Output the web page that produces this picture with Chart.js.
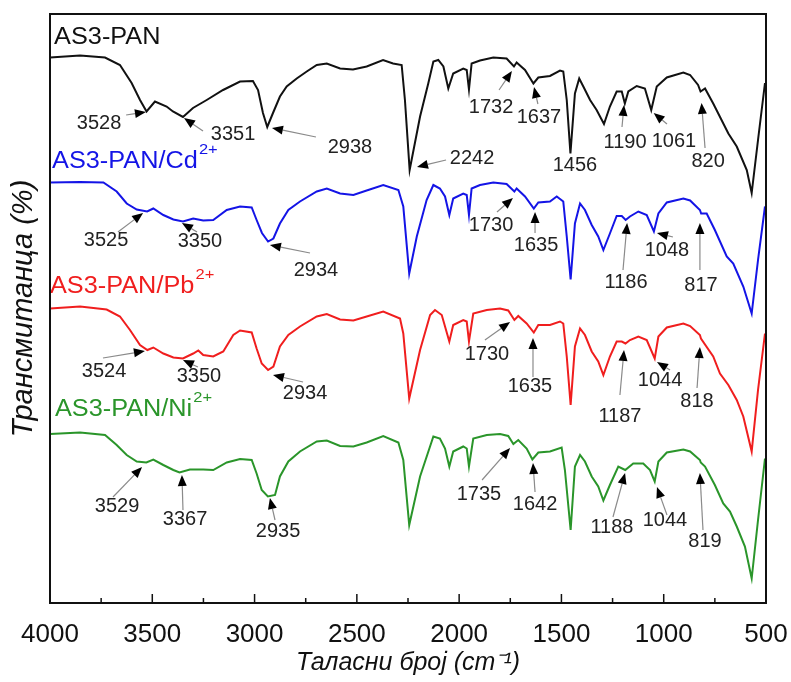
<!DOCTYPE html>
<html>
<head>
<meta charset="utf-8">
<script src="https://cdn.jsdelivr.net/npm/chart.js@4"></script>
<style>
  html, body { margin: 0; padding: 0; background: #ffffff; }
  #wrap { width: 791px; height: 682px; position: relative; }
</style>
</head>
<body>
<div id="wrap"><canvas id="c" width="791" height="682"></canvas></div>
<script>
// ---------------- DATA ----------------
const xTicks = [4000, 3500, 3000, 2500, 2000, 1500, 1000, 500];

const seriesNames = ["AS3-PAN", "AS3-PAN/Cd", "AS3-PAN/Pb", "AS3-PAN/Ni"];
const seriesSup = ["", "2+", "2+", "2+"];

const panWn = [4000,3853,3731,3658,3601,3560,3528,3487,3430,3399,3350,3301,3234,3154,3071,3008,2983,2959,2938,2910,2876,2843,2794,2745,2696,2647,2582,2519,2452,2372,2323,2281,2265,2242,2191,2151,2126,2102,2077,2053,2029,1980,1963,1952,1939,1898,1833,1768,1732,1719,1678,1637,1613,1556,1507,1491,1474,1456,1434,1413,1393,1360,1328,1292,1263,1230,1205,1190,1173,1132,1092,1061,1034,985,904,871,832,820,798,758,684,643,594,570,539,505];
const panT  = [109.1,109.5,109.1,107.6,104.0,100.6,98.3,100.3,99.3,98.3,97.2,99.0,100.6,102.6,104.3,104.4,102.6,98.0,95.2,98.0,101.3,103.3,104.9,106.3,107.6,107.9,106.9,106.7,107.3,108.6,107.9,107.6,100.6,86.6,97.3,103.9,108.3,108.6,107.3,102.9,105.9,106.9,106.6,102.7,107.9,108.5,109.1,108.9,107.3,108.1,106.6,103.9,105.1,105.4,106.5,106.3,100.6,89.9,101.9,104.9,103.3,100.6,98.6,95.8,99.3,102.3,102.3,99.9,102.3,103.4,102.9,98.6,103.3,105.1,106.1,105.6,103.6,102.3,102.9,99.9,93.9,91.3,86.6,82.0,92.6,104.0];

const cdWn = [4000,3853,3739,3674,3625,3576,3525,3495,3446,3397,3350,3300,3251,3202,3136,3071,3014,2990,2964,2934,2908,2876,2835,2778,2696,2647,2582,2517,2452,2371,2297,2273,2244,2207,2159,2126,2094,2069,2048,2029,1980,1963,1952,1939,1898,1833,1768,1730,1719,1678,1635,1613,1556,1523,1491,1474,1455,1434,1409,1385,1352,1320,1295,1263,1230,1205,1186,1165,1124,1083,1048,1026,985,904,871,823,817,790,750,692,660,611,570,539,505];
const cdT  = [84.1,84.2,84.1,82.3,79.9,78.7,78.3,78.9,77.6,76.7,76.3,76.9,76.5,76.6,78.6,79.3,79.1,76.6,74.0,72.3,72.9,75.9,78.6,80.3,82.3,82.9,81.9,81.6,82.5,83.6,82.6,79.3,65.9,73.3,80.6,83.6,82.9,81.3,77.6,80.9,81.9,81.6,77.6,82.9,83.6,84.1,83.8,82.3,82.9,81.3,78.9,80.1,80.3,81.3,80.3,73.3,64.7,75.9,79.9,78.6,75.6,73.3,70.6,73.9,77.4,77.4,76.6,77.3,78.3,77.6,74.3,77.9,80.1,80.9,80.5,78.6,77.9,77.9,74.6,69.3,67.9,63.3,57.9,68.6,79.3];

const pbWn = [4000,3853,3723,3658,3609,3560,3524,3495,3446,3397,3350,3300,3275,3251,3202,3153,3104,3071,3014,2990,2965,2934,2908,2876,2835,2778,2696,2647,2582,2517,2452,2371,2289,2273,2244,2191,2142,2118,2085,2048,2029,1980,1963,1952,1931,1865,1800,1760,1730,1711,1670,1635,1613,1556,1507,1491,1474,1455,1434,1409,1385,1352,1320,1295,1263,1230,1205,1187,1165,1124,1083,1044,1026,985,904,871,823,818,758,725,684,643,611,570,539,505];
const pbT  = [58.9,59.3,58.7,57.3,54.6,51.6,50.6,51.1,49.9,49.1,48.9,49.9,50.5,49.6,49.3,50.3,53.6,54.5,54.1,50.9,47.9,46.6,47.3,51.3,53.6,55.3,57.3,57.8,56.7,56.5,57.3,58.3,56.9,53.9,40.9,50.6,57.6,58.6,57.6,52.3,55.6,56.6,56.3,52.3,57.9,58.6,58.9,58.5,56.6,57.4,55.9,54.1,55.6,55.6,56.3,55.9,49.3,39.6,51.3,54.9,53.6,50.3,48.3,45.6,49.3,52.3,52.3,51.9,52.6,53.3,52.6,48.9,53.3,55.1,55.9,55.4,53.6,52.9,49.3,45.9,43.6,40.6,37.3,30.3,42.6,53.9];

const niWn = [4000,3853,3731,3674,3625,3576,3529,3495,3446,3397,3367,3316,3251,3202,3136,3071,3014,2990,2965,2935,2900,2876,2835,2778,2696,2647,2582,2517,2452,2371,2297,2273,2244,2191,2126,2094,2069,2048,2029,1980,1963,1952,1931,1865,1800,1760,1735,1711,1670,1642,1613,1556,1499,1483,1455,1434,1409,1385,1352,1320,1295,1263,1222,1188,1149,1100,1067,1044,1026,985,904,871,823,819,798,750,709,676,643,603,570,539,505];
const niT  = [33.8,34.1,33.6,31.6,29.6,28.3,28.1,28.7,27.6,26.6,26.1,26.7,26.7,26.6,28.1,28.8,28.6,25.9,22.6,21.3,21.6,25.3,28.3,30.3,32.3,32.5,31.4,31.3,32.1,33.4,32.1,28.6,15.6,25.3,33.3,32.9,30.9,27.3,30.3,31.3,30.9,27.3,32.9,33.6,33.8,33.4,31.8,32.6,30.9,28.7,30.1,30.3,31.1,26.6,14.6,27.3,29.6,28.3,25.3,23.3,20.5,23.6,27.3,26.6,27.9,27.9,26.6,24.3,28.3,30.1,30.7,30.3,28.6,28.1,27.3,23.6,19.9,18.3,15.3,11.3,4.9,16.6,28.9];

// peak labels per series (wavenumber text)
const panPeaks = ["3528","3351","2938","2242","1732","1637","1456","1190","1061","820"];
const cdPeaks  = ["3525","3350","2934","1730","1635","1186","1048","817"];
const pbPeaks  = ["3524","3350","2934","1730","1635","1187","1044","818"];
const niPeaks  = ["3529","3367","2935","1735","1642","1188","1044","819"];

// ---------------- LAYOUT (label placement in data units: [wn, T]) ----------------
const peakPlacement = {
  pan: [
    {t:[3760,96.0], a:[3628,97.6], h:[3531,98.2]},
    {t:[3105,93.8], a:[3252,94.4], h:[3345,97.0]},
    {t:[2534,91.2], a:[2700,93.2], h:[2915,95.0]},
    {t:[1937,89.0], a:[2064,88.6], h:[2206,87.2]},
    {t:[1844,99.2], a:[1805,102.6], h:[1742,106.4]},
    {t:[1610,97.2], a:[1615,99.8], h:[1634,103.2]},
    {t:[1434,87.6]},
    {t:[1189,92.2], a:[1204,95.2], h:[1194,99.6]},
    {t:[950,92.4],  a:[984,95.8],  h:[1049,98.0]},
    {t:[783,88.4],  a:[798,91.0],  h:[815,100.0]}
  ],
  cd: [
    {t:[3726,72.6], a:[3668,74.2], h:[3545,78.0]},
    {t:[3267,72.4], a:[3281,74.2], h:[3355,76.0]},
    {t:[2700,66.6], a:[2729,70.0], h:[2925,71.6]},
    {t:[1844,75.6], a:[1815,78.2], h:[1737,81.0]},
    {t:[1624,71.6], a:[1629,74.0], h:[1629,78.2]},
    {t:[1184,64.2], a:[1199,66.6], h:[1179,76.0]},
    {t:[984,70.6],  a:[955,73.2],  h:[1033,74.0]},
    {t:[818,63.6],  a:[823,66.6],  h:[823,76.0]}
  ],
  pb: [
    {t:[3736,46.4], a:[3741,49.0], h:[3536,50.4]},
    {t:[3272,45.4], a:[3277,47.2], h:[3350,48.6]},
    {t:[2753,42.0], a:[2763,44.2], h:[2910,45.6]},
    {t:[1864,49.8], a:[1874,52.6], h:[1751,56.2]},
    {t:[1654,43.4], a:[1639,45.2], h:[1639,53.0]},
    {t:[1214,37.4], a:[1214,41.6], h:[1194,50.6]},
    {t:[1018,44.6], a:[969,46.6],  h:[1033,48.2]},
    {t:[837,40.4],  a:[837,43.0],  h:[823,51.2]}
  ],
  ni: [
    {t:[3672,19.4], a:[3692,21.2], h:[3550,27.2]},
    {t:[3340,16.8], a:[3350,18.6], h:[3355,25.6]},
    {t:[2885,14.4], a:[2900,16.6], h:[2925,21.0]},
    {t:[1903,21.8], a:[1888,24.6], h:[1751,31.0]},
    {t:[1629,19.8], a:[1629,22.2], h:[1639,28.0]},
    {t:[1253,15.2], a:[1248,17.2], h:[1189,26.0]},
    {t:[994,16.6],  a:[984,17.6],  h:[1033,23.2]},
    {t:[798,12.4],  a:[808,14.6],  h:[823,26.0]}
  ]
};
const namePlacement = [[3980,111.8],[3990,87.0],[4000,62.0],[3976,37.4]];
const colors = ["#111111", "#1414e6", "#f01e1e", "#2a952a"];

// ---------------- BUILD ----------------
function pts(wn, t) { return wn.map((w, i) => ({x: w, y: t[i]})); }
const seriesData = [pts(panWn, panT), pts(cdWn, cdT), pts(pbWn, pbT), pts(niWn, niT)];
const peakGroups = [
  {labels: panPeaks, place: peakPlacement.pan},
  {labels: cdPeaks, place: peakPlacement.cd},
  {labels: pbPeaks, place: peakPlacement.pb},
  {labels: niPeaks, place: peakPlacement.ni}
];

const FONT = "'Liberation Sans', Arial, sans-serif";

const decorPlugin = {
  id: 'decor',
  afterDatasetsDraw(chart) {
    const ctx = chart.ctx, xs = chart.scales.x, ys = chart.scales.y, ca = chart.chartArea;
    const P = (p) => [xs.getPixelForValue(p[0]), ys.getPixelForValue(p[1])];
    ctx.save();
    // series names (slightly widened glyphs as in the reference)
    seriesNames.forEach((name, i) => {
      const [px, py] = P(namePlacement[i]);
      ctx.save();
      ctx.translate(px, py);
      ctx.scale(1.1, 1);
      ctx.fillStyle = colors[i];
      ctx.font = "23px " + FONT;
      ctx.textAlign = 'left'; ctx.textBaseline = 'alphabetic';
      ctx.fillText(name, 0, 0);
      if (seriesSup[i]) {
        const w = ctx.measureText(name).width;
        ctx.font = "15px " + FONT;
        ctx.fillText(seriesSup[i], w + 1, -14);
      }
      ctx.restore();
    });
    // peak annotations
    peakGroups.forEach(g => {
      g.labels.forEach((lab, j) => {
        const pl = g.place[j];
        const [tx, ty] = P(pl.t);
        ctx.fillStyle = '#222';
        ctx.font = "20px " + FONT;
        ctx.textAlign = 'center'; ctx.textBaseline = 'middle';
        ctx.fillText(lab, tx, ty);
        if (pl.a) {
          const [ax, ay] = P(pl.a);
          const [hx, hy] = P(pl.h);
          const ang = Math.atan2(hy - ay, hx - ax);
          const L = 11, W = 4.5;
          const bx = hx - L * Math.cos(ang), by = hy - L * Math.sin(ang);
          ctx.strokeStyle = '#8a8a8a'; ctx.lineWidth = 1.2;
          ctx.beginPath(); ctx.moveTo(ax, ay); ctx.lineTo(bx, by); ctx.stroke();
          ctx.fillStyle = '#000';
          ctx.beginPath();
          ctx.moveTo(hx, hy);
          ctx.lineTo(bx + W * Math.sin(ang), by - W * Math.cos(ang));
          ctx.lineTo(bx - W * Math.sin(ang), by + W * Math.cos(ang));
          ctx.closePath(); ctx.fill();
        }
      });
    });
    // frame
    ctx.strokeStyle = '#111'; ctx.lineWidth = 2;
    ctx.strokeRect(ca.left, ca.top, ca.right - ca.left, ca.bottom - ca.top);
    // inside ticks on bottom axis
    ctx.lineWidth = 1.5;
    for (let v = 500; v <= 4000; v += 250) {
      const x = xs.getPixelForValue(v);
      const len = (v % 500 === 0) ? 9 : 5;
      ctx.beginPath(); ctx.moveTo(x, ca.bottom); ctx.lineTo(x, ca.bottom - len); ctx.stroke();
    }
    ctx.restore();
  }
};

new Chart(document.getElementById('c'), {
  type: 'line',
  data: {
    datasets: seriesData.map((d, i) => ({
      label: seriesNames[i] + seriesSup[i],
      data: d,
      borderColor: colors[i],
      borderWidth: 2,
      pointRadius: 0,
      tension: 0,
      fill: false
    }))
  },
  options: {
    responsive: false,
    animation: false,
    devicePixelRatio: 1,
    layout: { padding: { top: 14, right: 25, left: 0, bottom: 0 } },
    plugins: { legend: { display: false }, tooltip: { enabled: false } },
    scales: {
      x: {
        type: 'linear', reverse: true, min: 500, max: 4000,
        grid: { display: false, drawTicks: false },
        border: { display: false },
        afterBuildTicks: (s) => { s.ticks = xTicks.map(v => ({value: v})); },
        ticks: { font: { size: 26, family: FONT }, color: '#111', padding: 16, maxRotation: 0, autoSkip: false,
                 callback: (v) => String(v) },
        title: { display: true, text: 'Таласни број (cm⁻¹)', font: { size: 25, style: 'italic', family: FONT }, color: '#111', padding: { top: 0, bottom: 4 } },
        afterFit: (s) => { s.height = 79; s.paddingLeft = 0; s.paddingRight = 0; }
      },
      y: {
        min: 0, max: 117.8,
        grid: { display: false, drawTicks: false },
        border: { display: false },
        ticks: { display: false },
        title: { display: true, text: 'Трансмитанца (%)', font: { size: 29, style: 'italic', family: FONT }, color: '#111', padding: { top: 7, bottom: 0 } },
        afterFit: (s) => { s.width = 50; }
      }
    }
  },
  plugins: [decorPlugin]
});
</script>
</body>
</html>
